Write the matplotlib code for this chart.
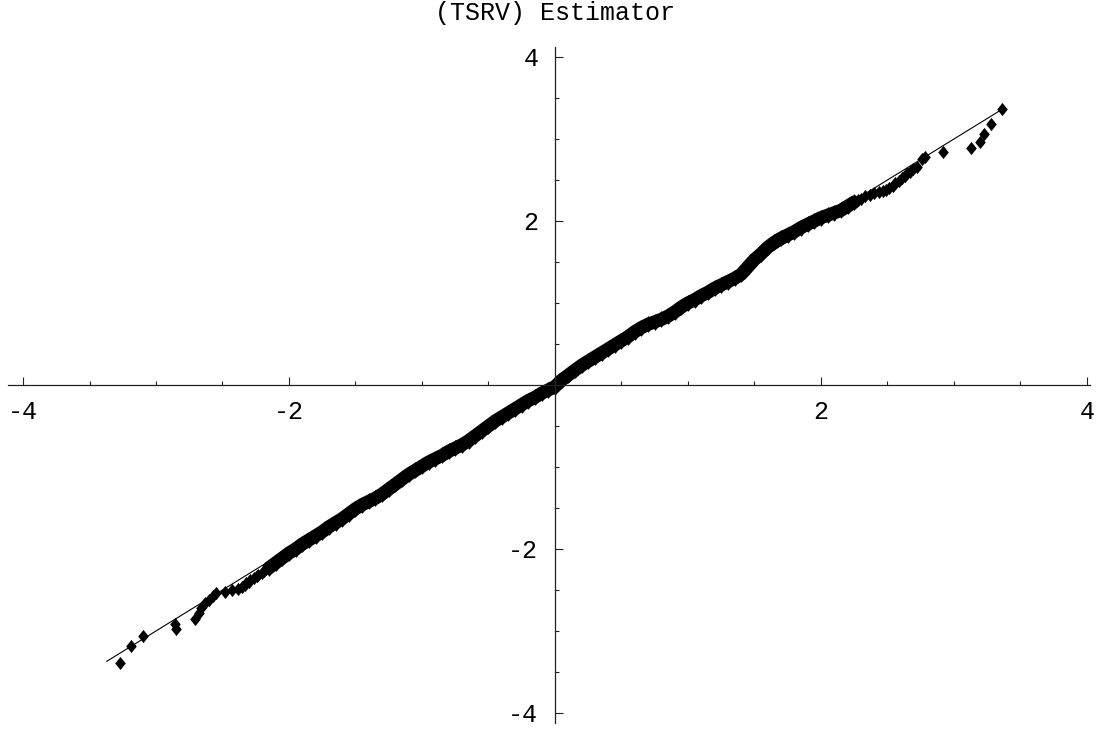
import matplotlib
matplotlib.use("Agg")
import matplotlib.pyplot as plt

# theoretical quantiles (x) vs sample quantiles (y)
x_low = [-3.27, -3.19, -3.10, -2.855, -2.85, -2.71, -2.68, -2.66, -2.63, -2.60,
         -2.57, -2.55, -2.48, -2.43, -2.38, -2.35, -2.33, -2.32, -2.30, -2.29,
         -2.26, -2.24, -2.23, -2.20, -2.19, -2.17]
y_low = [-3.39, -3.18, -3.06, -2.91, -2.97, -2.85, -2.78, -2.72, -2.66, -2.62,
         -2.57, -2.54, -2.52, -2.50, -2.49, -2.46, -2.44, -2.42, -2.40, -2.38,
         -2.35, -2.33, -2.32, -2.29, -2.27, -2.25]

x_mid = [-2.15, -2.10, -2.05, -2.00, -1.95, -1.90, -1.85, -1.80, -1.75, -1.70,
         -1.65, -1.60, -1.55, -1.50, -1.45, -1.40, -1.35, -1.30, -1.25, -1.20,
         -1.15, -1.10, -1.05, -1.00, -0.95, -0.90, -0.85, -0.80, -0.75, -0.70,
         -0.65, -0.60, -0.55, -0.50, -0.45, -0.40, -0.35, -0.30, -0.25, -0.20,
         -0.15, -0.10, -0.05, 0.00, 0.05, 0.10, 0.15, 0.20, 0.25, 0.30,
         0.35, 0.40, 0.45, 0.50, 0.55, 0.60, 0.65, 0.70, 0.75, 0.80,
         0.85, 0.90, 0.95, 1.00, 1.05, 1.10, 1.15, 1.20, 1.25, 1.30,
         1.35, 1.40, 1.45, 1.50, 1.55, 1.60, 1.65, 1.70, 1.75, 1.80,
         1.85, 1.90, 1.95, 2.00, 2.05, 2.10, 2.15, 2.20, 2.25]
y_mid = [-2.23, -2.17, -2.11, -2.05, -2.00, -1.94, -1.89, -1.84, -1.79, -1.73,
         -1.68, -1.63, -1.57, -1.51, -1.46, -1.42, -1.38, -1.33, -1.27, -1.21,
         -1.15, -1.09, -1.04, -0.99, -0.94, -0.90, -0.86, -0.81, -0.77, -0.73,
         -0.68, -0.62, -0.56, -0.50, -0.44, -0.39, -0.34, -0.29, -0.24, -0.19,
         -0.15, -0.10, -0.06, -0.02, 0.06, 0.12, 0.18, 0.24, 0.29, 0.34,
         0.39, 0.44, 0.49, 0.54, 0.59, 0.65, 0.70, 0.74, 0.77, 0.80,
         0.84, 0.89, 0.95, 1.00, 1.04, 1.09, 1.13, 1.18, 1.22, 1.26,
         1.30, 1.35, 1.44, 1.53, 1.60, 1.68, 1.74, 1.79, 1.83, 1.87,
         1.92, 1.96, 2.00, 2.04, 2.07, 2.10, 2.13, 2.18, 2.23]

x_high = [2.28, 2.30, 2.33, 2.37, 2.40, 2.44, 2.47, 2.49, 2.51, 2.54,
          2.56, 2.59, 2.61, 2.63, 2.65, 2.67, 2.69, 2.72, 2.757, 2.78,
          2.92, 3.128, 3.195, 3.226, 3.278, 3.364]
y_high = [2.25, 2.27, 2.30, 2.32, 2.34, 2.35, 2.37, 2.38, 2.40, 2.43,
          2.46, 2.49, 2.52, 2.55, 2.58, 2.60, 2.63, 2.66, 2.75, 2.78,
          2.84, 2.894, 2.967, 3.057, 3.18, 3.366]

line_x = [-3.37, 3.37]
line_y = [-3.37, 3.37]

major = [-4, -2, 2, 4]
major_labels = ['-4', '-2', '2', '4']
minor = [-3.5, -3, -2.5, -1.5, -1, -0.5, 0.5, 1, 1.5, 2.5, 3, 3.5]

font = 'Liberation Mono'

fig = plt.figure(figsize=(10.98, 7.31), dpi=100)
ax = fig.add_axes([0, 0, 1, 1])

diamond = [(0, 1), (0.8, 0), (0, -1), (-0.8, 0), (0, 1)]
# dense middle part: points overlap into a solid band
ax.plot(x_mid, y_mid, color='black', lw=9.5, solid_joinstyle='round',
        solid_capstyle='round')
ax.plot(x_mid, y_mid, linestyle='none', marker=diamond, markersize=12,
        color='black', markeredgewidth=0)
ax.plot(x_low + x_high, y_low + y_high, linestyle='none', marker=diamond,
        markersize=9.5, color='black', markeredgewidth=0)
ax.plot(line_x, line_y, color='black', lw=0.8)

ax.set_xlim(-4.173, 4.083)
ax.set_ylim(-4.22, 4.695)

for s in ['top', 'right']:
    ax.spines[s].set_visible(False)
ax.spines['left'].set_position(('data', 0))
ax.spines['bottom'].set_position(('data', 0))
ax.spines['left'].set_bounds(-4.12, 4.12)
ax.spines['bottom'].set_bounds(-4.11, 4.02)
for s in ['left', 'bottom']:
    ax.spines[s].set_linewidth(0.9)
    ax.spines[s].set_color('#222222')

ax.set_xticks(major)
ax.set_xticklabels(major_labels)
ax.set_xticks(minor, minor=True)
ax.set_yticks(major)
ax.set_yticklabels(major_labels)
ax.set_yticks(minor, minor=True)

ax.tick_params(which='both', direction='in', width=0.8, color='#222222')
ax.tick_params(which='major', length=5.5)
ax.tick_params(which='minor', length=3)
ax.tick_params(axis='x', which='major', pad=11)
ax.tick_params(axis='y', which='major', pad=12)
for lab in ax.get_xticklabels() + ax.get_yticklabels():
    lab.set_fontfamily(font)
    lab.set_fontsize(18)

fig.text(555 / 1098, 1 - 13 / 731, '(TSRV) Estimator', family=font,
         fontsize=18, ha='center', va='center')

fig.savefig('out.png', dpi=100)
